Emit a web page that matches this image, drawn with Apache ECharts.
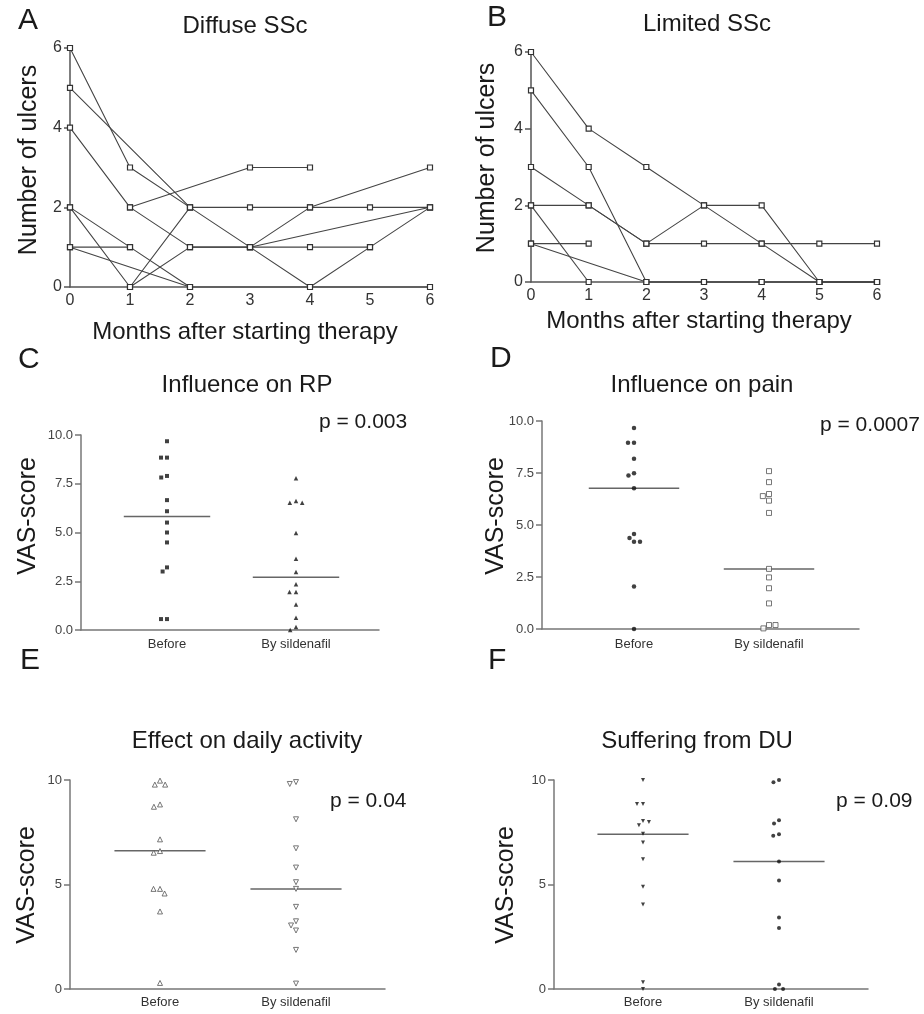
<!DOCTYPE html>
<html><head><meta charset="utf-8">
<script src="https://cdn.jsdelivr.net/npm/echarts@6/dist/echarts.min.js"></script>
<style>html,body{margin:0;padding:0;background:#fff}#c{width:924px;height:1014px}</style>
</head><body><div id="c"></div>
<script>
// ---------- data ----------
const months = [0, 1, 2, 3, 4, 5, 6];
// Panel A: Diffuse SSc, number of ulcers per patient by month (null = not recorded)
const diffuseP1 = [6, 3, 2, 2, 2, 2, 2];
const diffuseP2 = [5, null, 2, 1, 0, 1, 2];
const diffuseP3 = [4, 2, 1, 1, 1, 1, null];
const diffuseP4 = [2, 1, 0];
const diffuseP5 = [2, 0, 2];
const diffuseP6 = [1, 1];
const diffuseP7 = [1, null, 0, null, null, null, 0];
const diffuseP8 = [null, 2, null, 3, 3];
const diffuseP9 = [null, 0, 1, 1, 2, null, 3];
const diffuseP10 = [null, null, null, 1, null, null, 2];
// Panel B: Limited SSc
const limitedP1 = [6, 4, 3, 2, 1, 0, 0];
const limitedP2 = [5, 3, 0, 0, 0, 0, 0];
const limitedP3 = [3, 2, 1, 1, 1, 1, 1];
const limitedP4 = [2, 2, 1, 2, 2, 0, 0];
const limitedP5 = [2, 0];
const limitedP6 = [1, 1];
const limitedP7 = [1, null, 0, 0, 0, 0, 0];

const groups = ['Before', 'By sildenafil'];
// Panel C: Influence on RP
const rpBefore = [9.68, 8.84, 8.84, 7.90, 7.82, 6.66, 6.09, 5.51, 5.00, 4.49, 3.21, 3.00, 0.56, 0.56];
const rpAfter = [7.78, 6.62, 6.52, 6.52, 4.98, 3.65, 2.97, 2.35, 1.95, 1.95, 1.31, 0.63, 0.15, 0.00];
const rpMedian = [5.82, 2.70];
// Panel D: Influence on pain
const painBefore = [9.66, 8.96, 8.96, 8.19, 7.49, 7.38, 6.77, 4.57, 4.38, 4.19, 4.19, 2.04, 0.00];
const painAfter = [7.59, 7.06, 6.49, 6.39, 6.17, 5.58, 2.89, 2.48, 1.96, 1.23, 0.19, 0.03, 0.19];
const painMedian = [6.77, 2.89];
// Panel E: Effect on daily activity
const activityBefore = [9.97, 9.78, 9.78, 8.83, 8.72, 7.16, 6.60, 6.52, 4.79, 4.79, 4.57, 3.71, 0.29];
const activityAfter = [9.90, 9.81, 8.12, 6.73, 5.81, 5.11, 4.79, 3.93, 3.24, 3.04, 2.80, 1.87, 0.26];
const activityMedian = [6.61, 4.78];
// Panel F: Suffering from DU
const suffBefore = [10.0, 8.85, 8.85, 8.04, 7.83, 7.99, 7.43, 7.01, 6.21, 4.89, 4.04, 0.32, 0.00];
const suffAfter = [10.0, 9.89, 8.08, 7.92, 7.41, 7.33, 6.10, 5.19, 3.42, 2.92, 0.21, 0.00, 0.00];
const suffMedian = [7.40, 6.10];

const pValues = ['p = 0.003', 'p = 0.0007', 'p = 0.04', 'p = 0.09'];

// ---------- build ----------
const FONT = '"Liberation Sans", Arial, Helvetica, sans-serif';
const grids = [], xAxes = [], yAxes = [], series = [];

function lineGrid(box, patients) {
  const gi = grids.length;
  grids.push({ left: box.left, top: box.top, width: box.width, height: box.height });
  const ls = { color: '#555', width: 1.5 };
  xAxes.push({ gridIndex: gi, type: 'value', min: 0, max: 6, interval: 1,
    axisLine: { show: true, onZero: false, lineStyle: ls }, axisTick: { show: false },
    splitLine: { show: false },
    axisLabel: { fontSize: 16, color: '#333', margin: 6, fontFamily: FONT } });
  yAxes.push({ gridIndex: gi, type: 'value', min: 0, max: 6, interval: 2,
    axisLine: { show: true, onZero: false, lineStyle: ls },
    axisTick: { show: true, length: 6, lineStyle: ls }, splitLine: { show: false },
    axisLabel: { fontSize: 16, color: '#333', margin: 8, fontFamily: FONT } });
  patients.forEach(p => series.push({
    type: 'line', xAxisIndex: gi, yAxisIndex: gi,
    data: months.map((m, i) => [m, (p[i] === undefined || p[i] === null) ? '-' : p[i]]),
    connectNulls: true, symbol: 'rect', symbolSize: 5, showAllSymbol: true, clip: false,
    lineStyle: { color: '#444', width: 1.1 },
    itemStyle: { color: '#fff', borderColor: '#333', borderWidth: 1.2 },
    emphasis: { disabled: true }, silent: true
  }));
}

function dotPanel(box, before, after, median, yMax, yInt, decimals, symB, symA, margin) {
  const ls = { color: '#777', width: 1.5 };
  const fi = grids.length;
  grids.push({ left: box.left, top: box.top, width: box.width, height: box.height });
  xAxes.push({ gridIndex: fi, type: 'value', min: 0, max: 1,
    axisLine: { show: true, onZero: false, lineStyle: ls }, axisTick: { show: false },
    axisLabel: { show: false }, splitLine: { show: false } });
  yAxes.push({ gridIndex: fi, type: 'value', min: 0, max: yMax, interval: yInt,
    axisLine: { show: true, onZero: false, lineStyle: ls },
    axisTick: { show: true, length: 6, lineStyle: ls }, splitLine: { show: false },
    axisLabel: { fontSize: 13, color: '#444', margin: 8, fontFamily: FONT,
      formatter: v => v.toFixed(decimals) } });
  const di = grids.length;
  grids.push({ left: box.dataLeft, top: box.top, width: box.dataWidth, height: box.height });
  xAxes.push({ gridIndex: di, type: 'category', data: groups, boundaryGap: true,
    jitter: 40, jitterOverlap: false, jitterMargin: margin,
    axisLine: { show: false }, axisTick: { show: false }, splitLine: { show: false },
    axisLabel: { fontSize: 13, color: '#333', margin: box.labelMargin, fontFamily: FONT } });
  yAxes.push({ gridIndex: di, type: 'value', min: 0, max: yMax, show: false });
  [[before, symB, 0], [after, symA, 1]].forEach(([vals, sym, ci]) => {
    series.push(Object.assign({
      type: 'scatter', xAxisIndex: di, yAxisIndex: di, clip: false, silent: true,
      data: vals.map(v => [ci, v]), z: 3
    }, sym));
  });
  series.push({
    type: 'custom', xAxisIndex: di, yAxisIndex: di, silent: true, z: 2,
    data: median.map((v, i) => [i, v]),
    renderItem: (params, api) => {
      const p = api.coord([api.value(0), api.value(1)]);
      const bw = api.size([1, 0])[0];
      const h = bw * 0.335;
      return { type: 'line', shape: { x1: p[0] - h, y1: p[1], x2: p[0] + h, y2: p[1] },
        style: { stroke: '#666', lineWidth: 1.5 } };
    }
  });
}

const filled = (symbol, size, extra) => Object.assign({ symbol, symbolSize: size,
  itemStyle: { color: '#111' } }, extra || {});
const open = (symbol, size, extra) => Object.assign({ symbol, symbolSize: size,
  itemStyle: { color: '#fff', borderColor: '#555', borderWidth: 1 } }, extra || {});

lineGrid({ left: 70, top: 48, width: 360, height: 239 },
  [diffuseP1, diffuseP2, diffuseP3, diffuseP4, diffuseP5, diffuseP6, diffuseP7, diffuseP8, diffuseP9, diffuseP10]);
lineGrid({ left: 531, top: 52, width: 346, height: 230 },
  [limitedP1, limitedP2, limitedP3, limitedP4, limitedP5, limitedP6, limitedP7]);

dotPanel({ left: 81, top: 435, width: 298, height: 195, dataLeft: 102.5, dataWidth: 258, labelMargin: 8 },
  rpBefore, rpAfter, rpMedian, 10, 2.5, 1, filled('rect', 4), filled('triangle', 4.5), 2);
dotPanel({ left: 542, top: 421, width: 317, height: 208, dataLeft: 566.5, dataWidth: 270, labelMargin: 9 },
  painBefore, painAfter, painMedian, 10, 2.5, 1, filled('circle', 4.5), open('rect', 5), 1.5);
dotPanel({ left: 70, top: 780, width: 315, height: 209, dataLeft: 92, dataWidth: 272, labelMargin: 7 },
  activityBefore, activityAfter, activityMedian, 10, 5, 0, open('triangle', 5), open('triangle', 5, { symbolRotate: 180 }), 1.5);
dotPanel({ left: 554, top: 780, width: 314, height: 209, dataLeft: 575, dataWidth: 272, labelMargin: 7 },
  suffBefore, suffAfter, suffMedian, 10, 5, 0, filled('triangle', 4, { symbolRotate: 180 }), filled('circle', 4), 2);

function txt(text, x, y, size, opts) {
  return Object.assign({ type: 'text', x, y, silent: true,
    style: Object.assign({ text, fontSize: size, fontFamily: FONT, fill: '#1a1a1a',
      align: 'center', verticalAlign: 'middle' }, (opts && opts.style) || {}) },
    opts && opts.rotation ? { rotation: opts.rotation } : {});
}
const L = { style: { align: 'left' } };
const R90 = { rotation: Math.PI / 2 };
const graphics = [
  txt('A', 18, 21, 30, L), txt('B', 487, 18, 30, L), txt('C', 18, 360, 30, L),
  txt('D', 490, 359, 30, L), txt('E', 20, 661, 30, L), txt('F', 488, 661, 30, L),
  txt('Diffuse SSc', 245, 26, 24), txt('Limited SSc', 707, 24, 24),
  txt('Influence on RP', 247, 385, 24), txt('Influence on pain', 702, 385, 24),
  txt('Effect on daily activity', 247, 741, 24), txt('Suffering from DU', 697, 741, 24),
  txt(pValues[0], 319, 422, 21, L), txt(pValues[1], 820, 425, 21, L),
  txt(pValues[2], 330, 801, 21, L), txt(pValues[3], 836, 801, 21, L),
  txt('Number of ulcers', 29, 160, 25, R90), txt('Number of ulcers', 487, 158, 25, R90),
  txt('VAS-score', 28, 516, 25, R90), txt('VAS-score', 496, 516, 25, R90),
  txt('VAS-score', 27, 885, 25, R90), txt('VAS-score', 506, 885, 25, R90),
  txt('Months after starting therapy', 245, 332, 24), txt('Months after starting therapy', 699, 321, 24)
];

const chart = echarts.init(document.getElementById('c'), null, { renderer: 'canvas' });
chart.setOption({
  animation: false,
  backgroundColor: '#fff',
  textStyle: { fontFamily: FONT },
  grid: grids, xAxis: xAxes, yAxis: yAxes, series,
  graphic: { elements: graphics }
});
</script></body></html>
